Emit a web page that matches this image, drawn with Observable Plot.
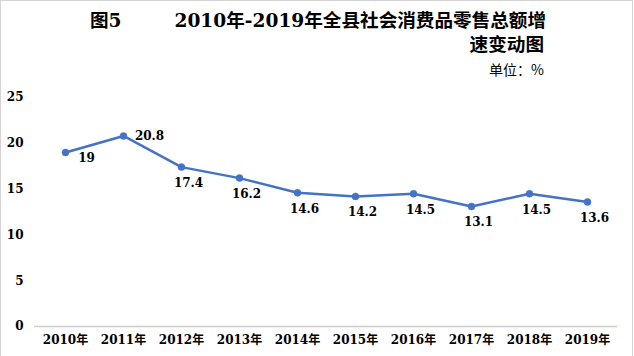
<!DOCTYPE html>
<html>
<head>
<meta charset="utf-8">
<script src="https://cdn.jsdelivr.net/npm/d3@7"></script>
<script src="https://cdn.jsdelivr.net/npm/@observablehq/plot@0.6"></script>
<style>
  html, body { margin: 0; padding: 0; background: #fff; }
  #wrap { position: relative; width: 634px; height: 356px; overflow: hidden; background: #fff; }
  #chart { position: absolute; left: 0; top: 0; }
  #border { position: absolute; left: 0; top: 0; width: 631px; height: 360px; border: 1px solid #d4d4d4; pointer-events: none; }
  .t { position: absolute; white-space: nowrap; color: #000; font-family: "DejaVu Serif", "Noto Sans CJK SC", serif; font-weight: bold; font-size: 18.6px; line-height: 24px; }
  .unit { position: absolute; white-space: nowrap; color: #000; font-family: "Noto Sans CJK SC", sans-serif; font-size: 14px; line-height: 18px; }
</style>
</head>
<body>
<div id="wrap">
  <div id="chart"></div>
  <div class="t" style="left:90px; top:9px;">图5</div>
  <div class="t" style="right:88px; top:9px; text-align:right;">2010年-2019年全县社会消费品零售总额增</div>
  <div class="t" style="right:90px; top:33px; text-align:right;">速变动图</div>
  <div class="unit" style="right:90px; top:60px; text-align:right;">单位：%</div>
  <div id="border"></div>
</div>
<script>
const years = ["2010年","2011年","2012年","2013年","2014年","2015年","2016年","2017年","2018年","2019年"];
const growth = [19, 20.8, 17.4, 16.2, 14.6, 14.2, 14.5, 13.1, 14.5, 13.6];
const yTicks = [0, 5, 10, 15, 20, 25];

const data = years.map((year, i) => ({year, value: growth[i], i}));
const fontFamily = '"DejaVu Serif", "Noto Sans CJK SC", serif';
const blue = "#4472C4";

const chart = Plot.plot({
  width: 634,
  height: 356,
  marginLeft: 34,
  marginRight: 17,
  marginTop: 97,
  marginBottom: 30,
  style: { fontFamily, fontSize: "12px", fontWeight: "bold", color: "#000", background: "transparent", overflow: "visible" },
  x: { type: "point", domain: years, padding: 0.5, label: null },
  y: { domain: [0, 25], label: null },
  marks: [
    Plot.axisY({ticks: yTicks, tickSize: 0, tickPadding: 11, label: null, fontWeight: "bold", fontSize: 12}),
    Plot.axisX({tickSize: 0, tickPadding: 9, label: null, fontWeight: "bold", fontSize: 12}),
    Plot.ruleY([0], {stroke: "#cccccc", strokeWidth: 1.3}),
    Plot.line(data, {x: "year", y: "value", stroke: blue, strokeWidth: 2.5}),
    Plot.dot(data, {x: "year", y: "value", r: 3.5, fill: blue, stroke: blue, strokeWidth: 0.5}),
    Plot.text(data.filter(d => d.i === 0), {x: "year", y: "value", text: d => String(d.value), dx: 21, dy: 6, fill: "#000", fontWeight: "bold", fontSize: 12}),
    Plot.text(data.filter(d => d.i === 1), {x: "year", y: "value", text: d => String(d.value), dx: 26, dy: 0, fill: "#000", fontWeight: "bold", fontSize: 12}),
    Plot.text(data.filter(d => d.i > 1), {x: "year", y: "value", text: d => String(d.value), dx: 7, dy: 16, fill: "#000", fontWeight: "bold", fontSize: 12})
  ]
});
document.getElementById("chart").appendChild(chart);
</script>
</body>
</html>
